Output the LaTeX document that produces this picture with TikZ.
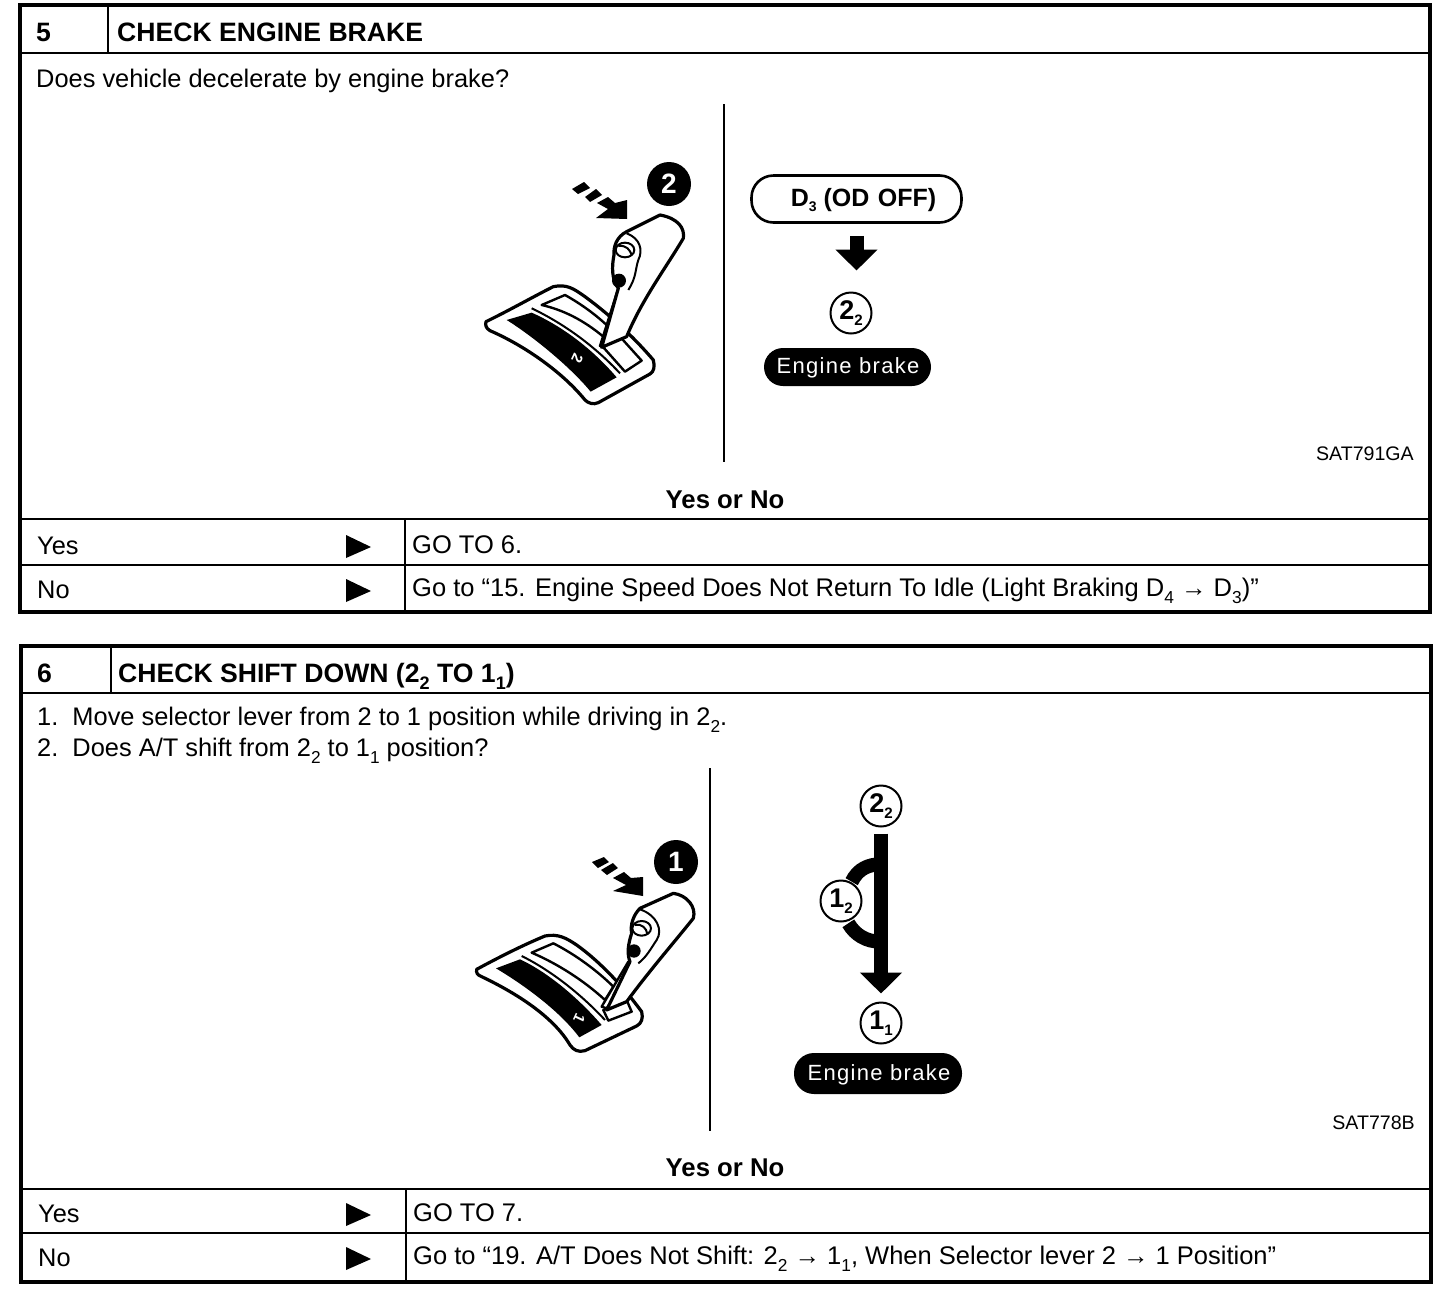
\documentclass[tikz,border=0pt]{standalone}
\usepackage{fontspec}
\setmainfont{Liberation Sans}
\usetikzlibrary{arrows.meta}
\newcommand{\szf}[1]{\fontsize{#1}{#1}\selectfont}
\newcommand{\subd}[1]{\raisebox{-0.28em}{\fontsize{0.68em}{0.68em}\selectfont #1}}
\newcommand{\subr}[1]{\raisebox{-0.22em}{\fontsize{0.56em}{0.56em}\selectfont #1}}
\tikzset{
  frame/.style={draw=black,line width=4pt,fill=white},
  rule/.style={draw=black,line width=2pt},
  thinrule/.style={draw=black,line width=1.6pt},
  body/.style={anchor=base west,inner sep=0pt,font=\szf{25.4}},
  head/.style={anchor=base west,inner sep=0pt,font=\szf{26.6}\bfseries},
  ctr/.style={anchor=base,inner sep=0pt,font=\szf{25.7}\bfseries},
  code/.style={anchor=base east,inner sep=0pt,font=\szf{19.6}},
  gocell/.style={anchor=base west,inner sep=0pt,font=\szf{25.5}},
  ring/.style={circle,draw=black,line width=2pt,fill=white,minimum size=41pt,inner sep=0pt,font=\szf{27}\bfseries},
  dot/.style={circle,fill=black,minimum size=44pt,inner sep=0pt,text=white,font=\szf{28}\bfseries},
  pilltext/.style={inner sep=0pt,text=white,font=\szf{22}\addfontfeature{LetterSpace=6}},
  fat/.style={line width=14pt,-{Triangle[length=21pt,width=41pt]},draw=black},
  ln/.style={draw=black,line width=3.2pt,line join=round,fill=white},
  lnt/.style={draw=black,line width=2.4pt,line join=round,fill=white},
  innerline/.style={draw=black,line width=2pt},
  glyphmark/.style={inner sep=0pt,text=white,font=\szf{15}\bfseries},
  zoomA/.style={shift={(470,140)},x=0.3333pt,y=-0.3333pt},
  zoomB/.style={shift={(460,830)},x=0.3333pt,y=-0.3333pt},
  zoomC/.style={shift={(780,770)},x=0.3333pt,y=-0.3333pt}
}
\begin{document}
\begin{tikzpicture}[x=1pt,y=-1pt]
\useasboundingbox (0,0) rectangle (1456,1294);
\fill[white] (0,0) rectangle (1456,1294);

% ---------- table 5 ----------
\path[frame] (20,5) rectangle (1430,612);
\draw[rule] (20,53) -- (1430,53);
\draw[rule] (108,5) -- (108,53);
\draw[rule] (20,519) -- (1430,519);
\draw[rule] (20,565) -- (1430,565);
\draw[rule] (405,519) -- (405,612);
\draw[thinrule] (724,104) -- (724,462);
\node[head] (n5) at (36,41) {5};
\node[head] (t5) at (117,41) {CHECK ENGINE BRAKE};
\node[body] (q5) at (36,87) {Does vehicle decelerate by engine brake?};
\node[code] (c5) at (1414,460) {SAT791GA};
\node[ctr] (yn5) at (725,508) {Yes or No};
\node[body] (y5) at (37,554) {Yes};
\node[body] (no5) at (37,598) {No};
\fill (346,535) -- (371,547) -- (346,558) -- cycle;
\fill (346,579) -- (371,591) -- (346,602) -- cycle;
\node[gocell] (gy5) at (412,553) {GO TO 6.};
\node[gocell] (gn5) at (412,596) {Go to “15. Engine Speed Does Not Return To Idle (Light Braking D\subd{4} → D\subd{3})”};

% lever 5
\begin{scope}[zoomA]
\path[ln] (48,545) .. controls (120,510) and (190,470) .. (250,440) .. controls (290,432) and (310,445) .. (345,470)
  .. controls (420,525) and (490,590) .. (550,660) .. controls (555,680) and (552,695) .. (540,702)
  -- (385,788) .. controls (370,795) and (355,790) .. (345,780) .. controls (280,700) and (170,620) .. (60,572) .. controls (48,565) and (45,555) .. (48,545) -- cycle;
\fill (110,540) -- (185,518) .. controls (280,560) and (370,630) .. (440,712) -- (362,755) .. controls (300,680) and (190,590) .. (110,540) -- cycle;
\draw[innerline] (185,505) .. controls (290,555) and (380,625) .. (450,700);
\path[lnt] (215,495) -- (285,465) .. controls (330,490) and (380,525) .. (420,565) -- (400,590) .. controls (340,540) and (280,510) .. (215,495) -- cycle;
\path[lnt] (400,622) -- (450,590) -- (515,662) -- (465,695) -- cycle;
\node[glyphmark,rotate=-115] (m2) at (322,655) {2};
% lever
\path[lnt] (390,618) -- (445,445) -- (475,450) -- (400,620) -- cycle;
\path[ln] (395,622) -- (470,590) .. controls (515,480) and (590,380) .. (640,295) .. controls (645,265) and (625,235) .. (570,225) -- (470,275) .. controls (440,290) and (430,320) .. (432,345)
  .. controls (425,380) and (425,420) .. (445,445) -- (395,622) -- cycle;
\draw[innerline] (470,280) .. controls (510,295) and (520,330) .. (505,360) .. controls (495,390) and (500,410) .. (475,450);
\draw[innerline,fill=white] (465,330) ellipse (28 and 22);
\draw[innerline] (445,318) .. controls (470,315) and (480,330) .. (485,345);
\fill (447,422) circle (21);
\end{scope}
\node[dot] (pos2) at (669,184) {2};
\fill (572,189) -- (584,182) -- (590,188) -- (578,194) -- cycle;
\fill (585,197) -- (596,189) -- (602,195) -- (590,202) -- cycle;
\fill (597,203) -- (608,197) -- (615,203) -- (627,200) -- (627,219) -- (596,218) -- (608,209) -- cycle;

% flow 5
\node[draw=black,line width=2.6pt,rounded corners=22pt,fill=white,minimum width=210pt,minimum height=47pt,inner sep=0pt] (d3) at (856.5,199) {};
\node[anchor=base,inner sep=0pt,font=\szf{25}\bfseries] (d3t) at (863.5,206) {D\subr{3} (OD\,\,OFF)};
\node[ring] (r22a) at (851,313) {2\subr{2}};
\draw[fat,shorten <=12pt,shorten >=21pt] (d3.south) -- (d3.south |- r22a.north);
\fill[black,rounded corners=19pt] (764,348) rectangle (931,386);
\node[pilltext] (eb5t) at (848,367.5) {Engine brake};

% ---------- table 6 ----------
\path[frame] (21,646) rectangle (1431,1282);
\draw[rule] (21,693) -- (1431,693);
\draw[rule] (111,646) -- (111,693);
\draw[rule] (21,1189) -- (1431,1189);
\draw[rule] (21,1233) -- (1431,1233);
\draw[rule] (406,1189) -- (406,1282);
\draw[thinrule] (710,768) -- (710,1131);
\node[head] (n6) at (37,682) {6};
\node[head] (t6) at (118,682) {CHECK SHIFT DOWN (2\subd{2} TO 1\subd{1})};
\node[body] (q6a) at (37,725) {1.\ \ Move selector lever from 2 to 1 position while driving in 2\subd{2}.};
\node[body] (q6b) at (37,756) {2.\ \ Does A/T shift from 2\subd{2} to 1\subd{1} position?};
\node[code] (c6) at (1415,1129) {SAT778B};
\node[ctr] (yn6) at (725,1176) {Yes or No};
\node[body] (y6) at (38,1222) {Yes};
\node[body] (no6) at (38,1266) {No};
\fill (346,1203) -- (371,1215) -- (346,1226) -- cycle;
\fill (346,1247) -- (371,1259) -- (346,1270) -- cycle;
\node[gocell] (gy6) at (413,1221) {GO TO 7.};
\node[gocell] (gn6) at (413,1264) {Go to “19. A/T Does Not Shift: 2\subd{2} → 1\subd{1}, When Selector lever 2 → 1 Position”};

% lever 6
\begin{scope}[zoomB]
\path[ln] (50,418) .. controls (120,380) and (190,345) .. (255,318) .. controls (295,310) and (320,325) .. (350,345)
  .. controls (420,395) and (490,470) .. (545,545) .. controls (550,565) and (545,580) .. (530,588)
  -- (375,662) .. controls (355,668) and (340,660) .. (330,645) .. controls (280,560) and (170,490) .. (65,440) .. controls (52,435) and (48,428) .. (50,418) -- cycle;
\fill (108,415) -- (180,388) .. controls (270,430) and (360,510) .. (425,585) -- (358,622) .. controls (300,545) and (200,470) .. (108,415) -- cycle;
\draw[innerline] (185,378) .. controls (280,425) and (370,500) .. (435,570);
\path[lnt] (215,368) -- (280,340) .. controls (340,370) and (410,420) .. (460,470) -- (435,510) .. controls (370,450) and (290,400) .. (215,368) -- cycle;
\path[lnt] (430,540) -- (500,510) -- (515,545) -- (445,572) -- cycle;
\node[glyphmark,rotate=-115] (m1) at (358,566) {1};
\path[lnt] (425,530) -- (505,395) -- (530,400) -- (440,535) -- cycle;
\path[ln] (440,540) -- (500,515) .. controls (570,420) and (640,340) .. (700,265) .. controls (710,230) and (680,195) .. (640,190) -- (540,235) .. controls (520,255) and (510,285) .. (515,310)
  .. controls (505,340) and (500,370) .. (510,395) -- (440,540) -- cycle;
\draw[innerline] (540,238) .. controls (590,255) and (610,300) .. (590,330) .. controls (570,360) and (560,380) .. (535,400);
\draw[innerline,fill=white] (545,295) ellipse (28 and 22);
\draw[innerline] (525,285) .. controls (545,280) and (560,295) .. (562,312);
\fill (522,363) circle (20);
\end{scope}
\node[dot] (pos1) at (676,862) {1};
\fill (592,862) -- (604,857) -- (609,862) -- (598,868) -- cycle;
\fill (601,870) -- (613,863) -- (618,868) -- (607,875) -- cycle;
\fill (613,878) -- (624,872) -- (631,878) -- (643,877) -- (643,896) -- (613,891) -- (626,885) -- cycle;

% flow 6
\begin{scope}[zoomC]
\draw[black,line width=14pt] (215,335) .. controls (235,295) and (265,285) .. (300,282);
\draw[black,line width=14pt] (205,460) .. controls (225,495) and (260,515) .. (300,515);
\end{scope}
\node[ring] (r22b) at (881,806) {2\subr{2}};
\node[ring] (r11) at (881,1023) {1\subr{1}};
\node[ring] (r12) at (841,901) {1\subr{2}};
\draw[fat,shorten <=6pt,shorten >=8pt] (r22b.south) -- (r11.north);
\fill[black,rounded corners=20pt] (794,1053) rectangle (962,1094);
\node[pilltext] (eb6t) at (879,1074.5) {Engine brake};
\end{tikzpicture}
\end{document}
